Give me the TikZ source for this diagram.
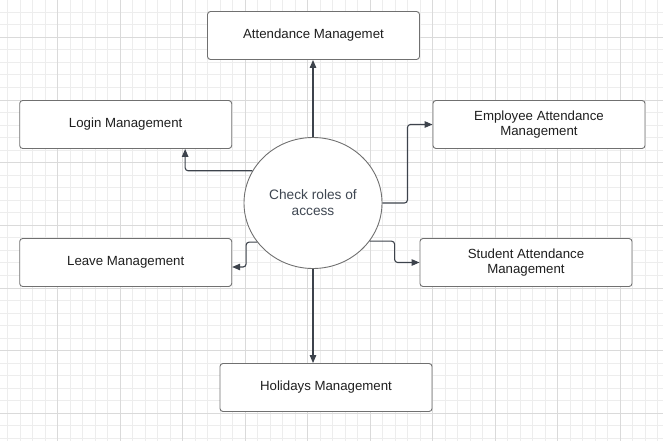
\documentclass[tikz,border=0pt]{standalone}
\usepackage{fontspec}
\setmainfont{Liberation Sans}
\usetikzlibrary{arrows.meta,shapes.geometric}
\definecolor{gridminor}{HTML}{EDEDED}
\definecolor{gridmajor}{HTML}{DADADA}
\definecolor{boxline}{HTML}{707070}
\definecolor{conline}{HTML}{3D434C}
\definecolor{roletext}{HTML}{3F4752}
\tikzset{
  module/.style={draw=boxline, fill=white, rounded corners=3pt, line width=0.9pt,
    minimum width=212pt, minimum height=48pt, inner sep=0pt, align=center,
    font=\fontsize{13.25}{15.5}\selectfont, text=black!88},
  hub/.style={ellipse, draw=boxline, fill=white, line width=0.9pt,
    minimum width=138pt, minimum height=131pt, inner sep=0pt, align=center,
    font=\fontsize{13.7}{16}\selectfont, text=roletext},
  conn/.style={draw=conline, line width=1.1pt, rounded corners=3pt,
    -{Triangle[length=8pt,width=6.5pt]}}
}
\begin{document}
\begin{tikzpicture}[x=1pt,y=-1pt]
	\useasboundingbox (0,0) rectangle (663,441);
	\clip (0,0) rectangle (663,441);
	% background grid
	\foreach \i in {0,...,52} \draw[gridminor,line width=0.8pt] ({7.5+12.5*\i},0) -- ++(0,441);
	\foreach \j in {-1,...,35} \draw[gridminor,line width=0.8pt] (0,{12.23+12.533*\j}) -- ++(663,0);
	\foreach \i in {0,...,9} \draw[gridmajor,line width=0.8pt] ({57.5+62.5*\i},0) -- ++(0,441);
	\foreach \j in {0,...,6} \draw[gridmajor,line width=0.8pt] (0,{37.3+62.67*\j}) -- ++(663,0);
	
	\node[hub] (roles) at (313,203) {Check roles of\\access};
	\node[module] (attend) at (313.5,35.5) {Attendance Managemet};
	\node[module] (login) at (125.7,124.5) {Login Management};
	\node[module] (employee) at (539,124.5) {Employee Attendance\\Management};
	\node[module] (leave) at (125.7,262.5) {Leave Management};
	\node[module] (student) at (526,262.5) {Student Attendance\\Management};
	\node[module] (holiday) at (326,387.5) {Holidays Management};
	
	\draw[conn] (roles.north) -- (roles.north |- attend.south);
	\draw[conn] (roles.south) -- (roles.south |- holiday.north);
	\draw[conn] (roles.152) -| ([xshift=-47pt]login.south east);
	\draw[conn] (roles.east) -- ++(25,0) |- (employee.west);
	\draw[conn] (roles.215) -- ++(-11,0) |- ([yshift=-4.5pt]leave.east);
	\draw[conn] (roles.326) -- ++(25,0) |- (student.west);
\end{tikzpicture}
\end{document}
